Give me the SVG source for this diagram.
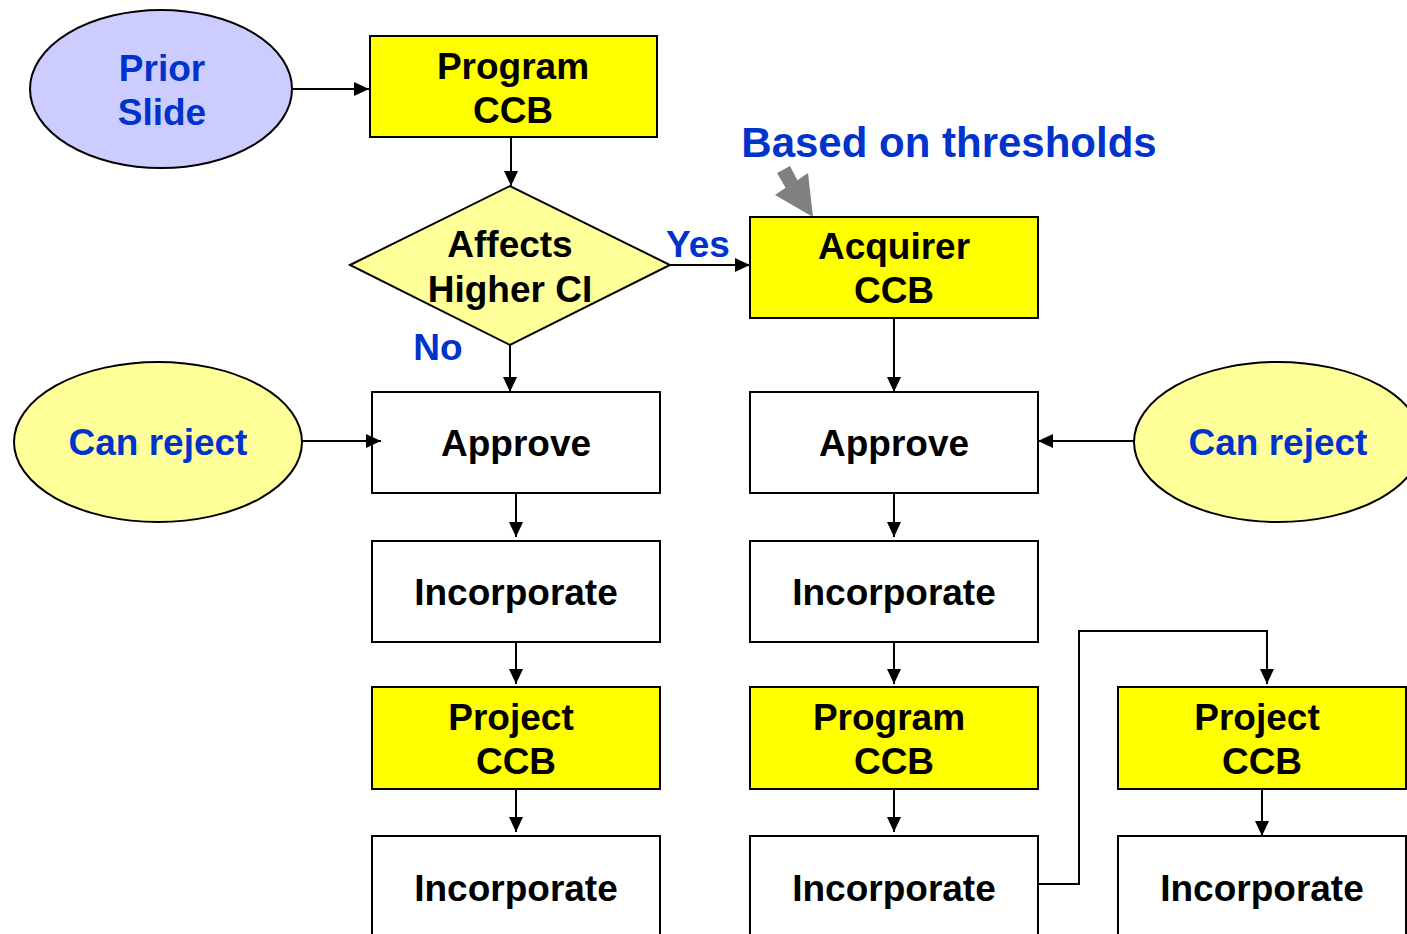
<svg xmlns="http://www.w3.org/2000/svg" width="1407" height="934" viewBox="0 0 1407 934">
  <style>
    .box { stroke: #000; stroke-width: 2; }
    .ccb { fill: #FFFF00; }
    .step { fill: #FFFFFF; }
    .soft { fill: #FFFF99; stroke: #000; stroke-width: 2; }
    .lilac { fill: #CCCCFF; stroke: #000; stroke-width: 2; }
    .lbl { font-family: "Liberation Sans", Arial, sans-serif; font-weight: bold; font-size: 37px; fill: #000; text-anchor: middle; }
    .blue { fill: #0033CC; }
    .wire { fill: none; stroke: #000; stroke-width: 2; }
  </style>
  <defs>
    <marker id="head" markerUnits="userSpaceOnUse" markerWidth="16" markerHeight="14" refX="15" refY="7" orient="auto">
      <path d="M0,0 L15,7 L0,14 Z" fill="#000"/>
    </marker>
  </defs>

  <rect width="1407" height="934" fill="#FFFFFF"/>

  <!-- annotation -->
  <g id="note-thresholds">
    <text class="lbl blue" x="949" y="157" style="font-size:42px">Based on thresholds</text>
    <polygon points="777,173 790,166 797.4,180.2 808,173 813,217 775,195 785.6,187.8" fill="#808080"/>
  </g>

  <g id="prior-slide">
    <ellipse class="lilac" cx="161" cy="89" rx="131" ry="79"/>
    <text class="lbl blue" x="162" y="81">Prior</text>
    <text class="lbl blue" x="162" y="125">Slide</text>
  </g>

  <g id="program-ccb-top">
    <rect class="box ccb" x="370" y="36" width="287" height="101"/>
    <text class="lbl" x="513" y="79">Program</text>
    <text class="lbl" x="513" y="123">CCB</text>
  </g>

  <g id="affects-higher-ci">
    <polygon class="soft" points="350,265 510,186 670,265 510,345"/>
    <text class="lbl" x="510" y="257">Affects</text>
    <text class="lbl" x="510" y="302">Higher CI</text>
  </g>

  <g id="label-yes"><text class="lbl blue" x="698" y="257">Yes</text></g>
  <g id="label-no"><text class="lbl blue" x="438" y="360">No</text></g>

  <g id="acquirer-ccb">
    <rect class="box ccb" x="750" y="217" width="288" height="101"/>
    <text class="lbl" x="894" y="259">Acquirer</text>
    <text class="lbl" x="894" y="303">CCB</text>
  </g>

  <g id="can-reject-left">
    <ellipse class="soft" cx="158" cy="442" rx="144" ry="80"/>
    <text class="lbl blue" x="158" y="455">Can reject</text>
  </g>

  <g id="can-reject-right">
    <ellipse class="soft" cx="1278" cy="442" rx="144" ry="80"/>
    <text class="lbl blue" x="1278" y="455">Can reject</text>
  </g>

  <g id="approve-left">
    <rect class="box step" x="372" y="392" width="288" height="101"/>
    <text class="lbl" x="516" y="456">Approve</text>
  </g>

  <g id="approve-right">
    <rect class="box step" x="750" y="392" width="288" height="101"/>
    <text class="lbl" x="894" y="456">Approve</text>
  </g>

  <g id="incorporate-left">
    <rect class="box step" x="372" y="541" width="288" height="101"/>
    <text class="lbl" x="516" y="605">Incorporate</text>
  </g>

  <g id="incorporate-right">
    <rect class="box step" x="750" y="541" width="288" height="101"/>
    <text class="lbl" x="894" y="605">Incorporate</text>
  </g>

  <g id="project-ccb-left">
    <rect class="box ccb" x="372" y="687" width="288" height="102"/>
    <text class="lbl" x="511" y="730">Project</text>
    <text class="lbl" x="516" y="774">CCB</text>
  </g>

  <g id="program-ccb-right">
    <rect class="box ccb" x="750" y="687" width="288" height="102"/>
    <text class="lbl" x="889" y="730">Program</text>
    <text class="lbl" x="894" y="774">CCB</text>
  </g>

  <g id="project-ccb-right">
    <rect class="box ccb" x="1118" y="687" width="288" height="102"/>
    <text class="lbl" x="1257" y="730">Project</text>
    <text class="lbl" x="1262" y="774">CCB</text>
  </g>

  <g id="incorporate-left-bottom">
    <rect class="box step" x="372" y="836" width="288" height="110"/>
    <text class="lbl" x="516" y="901">Incorporate</text>
  </g>

  <g id="incorporate-right-bottom">
    <rect class="box step" x="750" y="836" width="288" height="110"/>
    <text class="lbl" x="894" y="901">Incorporate</text>
  </g>

  <g id="incorporate-far-right">
    <rect class="box step" x="1118" y="836" width="288" height="110"/>
    <text class="lbl" x="1262" y="901">Incorporate</text>
  </g>

  <!-- connectors, drawn last so the heads sit on top of the box edges -->
  <g id="connectors">
    <line class="wire" x1="292" y1="89" x2="369" y2="89" marker-end="url(#head)"/>
    <line class="wire" x1="511" y1="137" x2="511" y2="186" marker-end="url(#head)"/>
    <line class="wire" x1="670" y1="265" x2="750" y2="265" marker-end="url(#head)"/>
    <line class="wire" x1="510" y1="345" x2="510" y2="392" marker-end="url(#head)"/>
    <line class="wire" x1="302" y1="441" x2="381" y2="441" marker-end="url(#head)"/>
    <line class="wire" x1="516" y1="493" x2="516" y2="537" marker-end="url(#head)"/>
    <line class="wire" x1="516" y1="642" x2="516" y2="684" marker-end="url(#head)"/>
    <line class="wire" x1="516" y1="789" x2="516" y2="832" marker-end="url(#head)"/>
    <line class="wire" x1="894" y1="318" x2="894" y2="392" marker-end="url(#head)"/>
    <line class="wire" x1="1134" y1="441" x2="1038" y2="441" marker-end="url(#head)"/>
    <line class="wire" x1="894" y1="493" x2="894" y2="537" marker-end="url(#head)"/>
    <line class="wire" x1="894" y1="642" x2="894" y2="684" marker-end="url(#head)"/>
    <line class="wire" x1="894" y1="789" x2="894" y2="832" marker-end="url(#head)"/>
    <polyline class="wire" points="1038,884 1079,884 1079,631 1267,631 1267,684" marker-end="url(#head)"/>
    <line class="wire" x1="1262" y1="789" x2="1262" y2="836" marker-end="url(#head)"/>
  </g>
</svg>
